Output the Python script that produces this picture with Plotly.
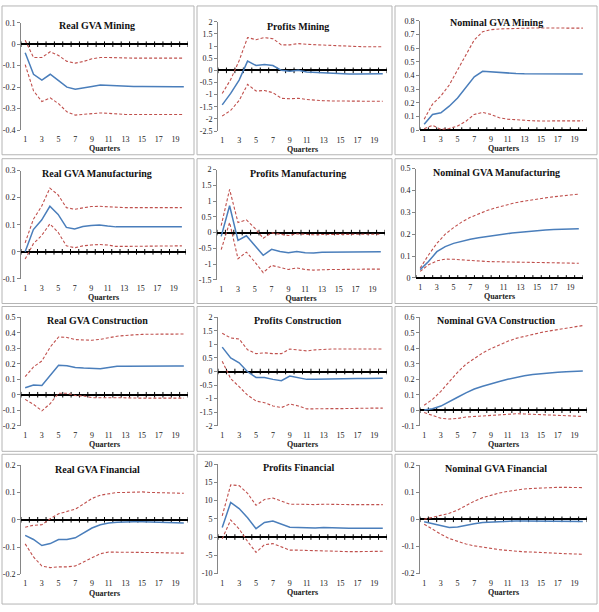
import plotly.graph_objects as go

quarters = list(range(1, 21))
x_tick_values = list(range(1, 20, 2))
x_tick_labels = [str(q) for q in x_tick_values]
tick_mark_positions = [q - 0.5 for q in range(1, 22)]

titles = ["Real GVA Mining", "Profits Mining", "Nominal GVA Mining",
          "Real GVA Manufacturing", "Profits Manufacturing", "Nominal GVA Manufacturing",
          "Real GVA Construction", "Profits Construction", "Nominal GVA Construction",
          "Real GVA Financial", "Profits Financial", "Nominal GVA Financial"]

# ---- Mining ----
real_mining_mid = [-0.04, -0.14, -0.167, -0.14, -0.17, -0.20, -0.21, -0.205, -0.197, -0.19,
                   -0.192, -0.196, -0.197, -0.197, -0.197, -0.198, -0.198, -0.198, -0.198, -0.198]
real_mining_up = [0.018, -0.062, -0.062, -0.035, -0.053, -0.08, -0.088, -0.08, -0.068, -0.062,
                  -0.062, -0.064, -0.065, -0.065, -0.065, -0.065, -0.065, -0.065, -0.065, -0.065]
real_mining_lo = [-0.095, -0.217, -0.267, -0.25, -0.277, -0.315, -0.33, -0.327, -0.322, -0.32,
                  -0.322, -0.325, -0.327, -0.327, -0.327, -0.327, -0.327, -0.327, -0.327, -0.327]

profits_mining_mid = [-1.42, -0.95, -0.4, 0.38, 0.2, 0.24, 0.2, 0.0, -0.04, 0.0,
                      -0.07, -0.09, -0.1, -0.13, -0.15, -0.15, -0.15, -0.15, -0.15, -0.14]
profits_mining_up = [-0.95, -0.38, 0.4, 1.35, 1.26, 1.35, 1.3, 1.05, 1.05, 1.1,
                     1.07, 1.05, 1.04, 1.01, 0.99, 0.98, 0.98, 0.97, 0.97, 0.97]
profits_mining_lo = [-1.88, -1.65, -1.24, -0.58, -0.85, -0.83, -0.92, -1.15, -1.17, -1.15,
                     -1.2, -1.24, -1.25, -1.26, -1.27, -1.27, -1.27, -1.27, -1.27, -1.27]

nominal_mining_mid = [0.043, 0.115, 0.127, 0.175, 0.235, 0.31, 0.39, 0.43, 0.425, 0.42,
                      0.416, 0.414, 0.412, 0.411, 0.41, 0.41, 0.41, 0.41, 0.41, 0.41]
nominal_mining_up = [0.08, 0.19, 0.25, 0.33, 0.44, 0.55, 0.66, 0.72, 0.735, 0.74,
                     0.743, 0.745, 0.746, 0.747, 0.747, 0.747, 0.747, 0.747, 0.746, 0.746]
nominal_mining_lo = [0.01, 0.035, 0.005, 0.012, 0.03, 0.065, 0.115, 0.13, 0.115, 0.09,
                     0.08, 0.075, 0.07, 0.068, 0.067, 0.067, 0.067, 0.068, 0.068, 0.068]

# ---- Manufacturing ----
real_manuf_mid = [0.0, 0.082, 0.117, 0.168, 0.138, 0.09, 0.084, 0.093, 0.097, 0.099,
                  0.095, 0.092, 0.092, 0.092, 0.092, 0.092, 0.092, 0.092, 0.092, 0.092]
real_manuf_up = [0.033, 0.12, 0.168, 0.235, 0.21, 0.163, 0.157, 0.163, 0.167, 0.168,
                 0.166, 0.163, 0.163, 0.163, 0.163, 0.163, 0.163, 0.163, 0.163, 0.163]
real_manuf_lo = [-0.027, 0.03, 0.06, 0.103, 0.072, 0.022, 0.015, 0.022, 0.025, 0.027,
                 0.025, 0.02, 0.02, 0.02, 0.02, 0.021, 0.021, 0.021, 0.022, 0.022]

profits_manuf_mid = [-0.12, 0.85, -0.25, -0.1, -0.41, -0.72, -0.53, -0.6, -0.64, -0.6,
                     -0.64, -0.65, -0.62, -0.62, -0.62, -0.61, -0.61, -0.61, -0.61, -0.61]
profits_manuf_up = [0.22, 1.37, 0.32, 0.4, 0.14, -0.18, -0.01, -0.04, -0.09, -0.04,
                    -0.06, -0.07, -0.06, -0.06, -0.06, -0.06, -0.05, -0.05, -0.05, -0.05]
profits_manuf_lo = [-0.54, 0.32, -0.83, -0.62, -0.93, -1.27, -1.04, -1.11, -1.17, -1.12,
                    -1.17, -1.19, -1.17, -1.17, -1.17, -1.16, -1.16, -1.16, -1.16, -1.16]

nominal_manuf_mid = [0.038, 0.075, 0.12, 0.143, 0.158, 0.168, 0.177, 0.184, 0.19, 0.196,
                     0.2, 0.205, 0.209, 0.213, 0.216, 0.219, 0.221, 0.223, 0.224, 0.225]
nominal_manuf_up = [0.045, 0.105, 0.158, 0.2, 0.23, 0.256, 0.277, 0.294, 0.308, 0.32,
                    0.331, 0.34, 0.348, 0.355, 0.361, 0.366, 0.371, 0.375, 0.379, 0.383]
nominal_manuf_lo = [0.03, 0.06, 0.078, 0.086, 0.085, 0.082, 0.079, 0.077, 0.075, 0.074,
                    0.073, 0.072, 0.071, 0.07, 0.069, 0.069, 0.068, 0.068, 0.068, 0.067]

# ---- Construction ----
real_constr_mid = [0.045, 0.063, 0.06, 0.123, 0.19, 0.187, 0.176, 0.172, 0.168, 0.168,
                   0.176, 0.184, 0.184, 0.185, 0.185, 0.185, 0.185, 0.186, 0.186, 0.186]
real_constr_up = [0.117, 0.18, 0.218, 0.308, 0.373, 0.37, 0.356, 0.356, 0.352, 0.358,
                  0.37, 0.378, 0.383, 0.388, 0.39, 0.391, 0.391, 0.392, 0.392, 0.392]
real_constr_lo = [-0.03, -0.062, -0.104, -0.057, 0.01, 0.01, -0.005, -0.008, -0.019, -0.021,
                  -0.019, -0.019, -0.021, -0.022, -0.022, -0.022, -0.022, -0.022, -0.022, -0.022]

profits_constr_mid = [0.9, 0.5, 0.32, -0.01, -0.22, -0.22, -0.29, -0.34, -0.17, -0.22,
                      -0.29, -0.29, -0.28, -0.28, -0.27, -0.26, -0.26, -0.26, -0.25, -0.25]
profits_constr_up = [1.41, 1.24, 1.2, 0.8, 0.66, 0.69, 0.66, 0.66, 0.83, 0.8,
                     0.76, 0.8, 0.82, 0.83, 0.83, 0.83, 0.83, 0.83, 0.83, 0.83]
profits_constr_lo = [0.38, -0.26, -0.56, -0.87, -1.09, -1.15, -1.27, -1.33, -1.2, -1.27,
                     -1.38, -1.37, -1.37, -1.37, -1.37, -1.36, -1.36, -1.35, -1.35, -1.35]

nominal_constr_mid = [0.002, 0.01, 0.027, 0.053, 0.084, 0.112, 0.137, 0.155, 0.172, 0.186,
                      0.2, 0.212, 0.222, 0.23, 0.236, 0.241, 0.245, 0.248, 0.251, 0.254]
nominal_constr_up = [0.032, 0.07, 0.122, 0.186, 0.245, 0.297, 0.335, 0.37, 0.398, 0.422,
                     0.445, 0.464, 0.478, 0.49, 0.502, 0.512, 0.52, 0.53, 0.538, 0.547]
nominal_constr_lo = [-0.015, -0.036, -0.052, -0.057, -0.053, -0.044, -0.04, -0.036, -0.032, -0.028,
                     -0.025, -0.023, -0.024, -0.027, -0.029, -0.031, -0.034, -0.036, -0.038, -0.04]

# ---- Financial ----
real_fin_mid = [-0.057, -0.072, -0.094, -0.087, -0.072, -0.072, -0.066, -0.048, -0.03, -0.018,
                -0.012, -0.009, -0.007, -0.007, -0.007, -0.008, -0.009, -0.01, -0.011, -0.012]
real_fin_up = [-0.027, -0.02, -0.018, 0.004, 0.022, 0.03, 0.039, 0.058, 0.078, 0.09,
               0.096, 0.1, 0.1, 0.102, 0.102, 0.1, 0.099, 0.098, 0.097, 0.097]
real_fin_lo = [-0.088, -0.136, -0.169, -0.175, -0.172, -0.172, -0.169, -0.154, -0.136, -0.124,
               -0.118, -0.118, -0.118, -0.118, -0.118, -0.119, -0.12, -0.121, -0.122, -0.122]

profits_fin_mid = [2.6, 9.5, 7.8, 5.3, 2.3, 4.0, 4.4, 3.5, 2.7, 2.6,
                   2.5, 2.5, 2.6, 2.5, 2.4, 2.4, 2.4, 2.4, 2.4, 2.4]
profits_fin_up = [5.8, 14.3, 14.1, 12.0, 8.7, 10.3, 10.7, 9.9, 9.0, 9.0,
                  8.9, 8.9, 9.0, 8.9, 8.9, 8.9, 8.9, 8.9, 8.9, 8.9]
profits_fin_lo = [-0.5, 4.7, 2.2, -1.2, -4.2, -2.1, -1.8, -2.7, -3.6, -3.6,
                  -3.7, -3.8, -3.8, -3.9, -4.0, -4.0, -4.0, -4.0, -4.0, -3.9]

nominal_fin_mid = [-0.009, -0.016, -0.023, -0.03, -0.028, -0.021, -0.016, -0.012, -0.01, -0.008,
                   -0.007, -0.006, -0.006, -0.006, -0.006, -0.006, -0.006, -0.007, -0.007, -0.008]
nominal_fin_up = [0.0, 0.008, 0.014, 0.022, 0.034, 0.051, 0.067, 0.08, 0.089, 0.097,
                  0.103, 0.108, 0.112, 0.114, 0.116, 0.117, 0.118, 0.118, 0.118, 0.117]
nominal_fin_lo = [-0.018, -0.037, -0.055, -0.071, -0.082, -0.091, -0.098, -0.103, -0.108, -0.112,
                  -0.115, -0.118, -0.12, -0.121, -0.123, -0.124, -0.126, -0.127, -0.128, -0.129]

# y tick values per panel
y_ticks = [
    [-0.4, -0.3, -0.2, -0.1, 0, 0.1],
    [-2.5, -2, -1.5, -1, -0.5, 0, 0.5, 1, 1.5, 2],
    [0, 0.1, 0.2, 0.3, 0.4, 0.5, 0.6, 0.7, 0.8],
    [-0.1, 0, 0.1, 0.2, 0.3],
    [-1.5, -1, -0.5, 0, 0.5, 1, 1.5, 2],
    [0, 0.1, 0.2, 0.3, 0.4, 0.5],
    [-0.2, -0.1, 0, 0.1, 0.2, 0.3, 0.4, 0.5],
    [-2, -1.5, -1, -0.5, 0, 0.5, 1, 1.5, 2],
    [-0.1, 0, 0.1, 0.2, 0.3, 0.4, 0.5, 0.6],
    [-0.2, -0.1, 0, 0.1, 0.2],
    [-10, -5, 0, 5, 10, 15, 20],
    [-0.2, -0.1, 0, 0.1, 0.2],
]

series = [
    (real_mining_mid, real_mining_up, real_mining_lo),
    (profits_mining_mid, profits_mining_up, profits_mining_lo),
    (nominal_mining_mid, nominal_mining_up, nominal_mining_lo),
    (real_manuf_mid, real_manuf_up, real_manuf_lo),
    (profits_manuf_mid, profits_manuf_up, profits_manuf_lo),
    (nominal_manuf_mid, nominal_manuf_up, nominal_manuf_lo),
    (real_constr_mid, real_constr_up, real_constr_lo),
    (profits_constr_mid, profits_constr_up, profits_constr_lo),
    (nominal_constr_mid, nominal_constr_up, nominal_constr_lo),
    (real_fin_mid, real_fin_up, real_fin_lo),
    (profits_fin_mid, profits_fin_up, profits_fin_lo),
    (nominal_fin_mid, nominal_fin_up, nominal_fin_lo),
]

# ---- layout geometry (pixels) ----
W, H = 599, 612
plot_boxes = [  # left, right, top, bottom
    (21, 188, 19, 128), (218, 387, 18, 129), (420, 587, 17, 128),
    (21, 186, 169, 279), (217, 385, 168, 280), (416, 583, 167, 278),
    (21, 188, 318, 428), (218, 387, 318, 428), (420, 587, 318, 428),
    (21, 188, 468, 579), (218, 387, 467, 578), (420, 587, 468, 578),
]
title_pos = [
    (97, 22), (298, 23), (496, 19),
    (97, 172), (298, 172), (496, 171),
    (97, 321), (298, 321), (496, 321),
    (97, 472), (298, 470), (496, 471),
]
col_edges = [(2, 194), (197, 392), (395, 597)]
row_edges = [(2, 153), (157, 304), (307, 454), (457, 609)]

def fx(p):
    return p / W

def fy(p):
    return 1 - p / H

SERIF = "Liberation Serif, Times New Roman, serif"
BLUE = "#4a7ebb"
RED = "#c0504d"
AXGRAY = "#868686"

fig = go.Figure()
layout = dict(width=W, height=H, autosize=False, margin=dict(l=0, r=0, t=0, b=0),
              paper_bgcolor="white", plot_bgcolor="white", showlegend=False,
              font=dict(family=SERIF, size=8, color="#222"))
annotations = []
shapes = []

for i in range(12):
    n = "" if i == 0 else str(i + 1)
    xa, ya = "x" + n, "y" + n
    mid, up, lo = series[i]
    fig.add_trace(go.Scatter(x=tick_mark_positions, y=[0] * len(tick_mark_positions), mode="markers",
                             xaxis=xa, yaxis=ya, hoverinfo="skip",
                             marker=dict(symbol="line-ns", size=4, line=dict(color="black", width=1))))
    for arr in (up, lo):
        fig.add_trace(go.Scatter(x=quarters, y=arr, mode="lines", xaxis=xa, yaxis=ya,
                                 line=dict(color=RED, width=1.1, dash="3px,2px"), hoverinfo="skip"))
    fig.add_trace(go.Scatter(x=quarters, y=mid, mode="lines", xaxis=xa, yaxis=ya,
                             line=dict(color=BLUE, width=1.5)))
    l, r, t, b = plot_boxes[i]
    yt = y_ticks[i]
    layout["xaxis" + n] = dict(domain=[fx(l), fx(r)], range=[0.5, 20.5], anchor=ya,
                               tickmode="array", tickvals=x_tick_values, ticktext=x_tick_labels,
                               showline=False, ticks="", showgrid=False, zeroline=False,
                               ticklabelstandoff=3,
                               tickfont=dict(size=8, family=SERIF, color="#222"),
                               title=dict(text="<b>Quarters</b>", standoff=2,
                                          font=dict(size=8, family=SERIF, color="#222")))
    layout["yaxis" + n] = dict(domain=[fy(b), fy(t)], range=[yt[0], yt[-1]], anchor=xa,
                               tickmode="array", tickvals=yt, ticktext=[f"{v:g}" for v in yt],
                               showline=True, linecolor=AXGRAY, linewidth=1,
                               ticks="outside", ticklen=3, tickcolor=AXGRAY,
                               showgrid=False, zeroline=True, zerolinecolor="black", zerolinewidth=2,
                               tickfont=dict(size=8, family=SERIF, color="#222"))
    tx, ty = title_pos[i]
    annotations.append(dict(text="<b>" + titles[i] + "</b>", x=fx(tx), y=fy(ty), xref="paper", yref="paper",
                            xanchor="center", yanchor="middle", showarrow=False,
                            font=dict(size=10, family=SERIF, color="#111")))

for (r0, r1) in row_edges:
    for (c0, c1) in col_edges:
        shapes.append(dict(type="rect", xref="paper", yref="paper", x0=fx(c0), x1=fx(c1),
                           y0=fy(r1), y1=fy(r0), line=dict(color="#b4b4b4", width=1)))

layout["annotations"] = annotations
layout["shapes"] = shapes
fig.update_layout(**layout)
fig.write_html("out.html")
